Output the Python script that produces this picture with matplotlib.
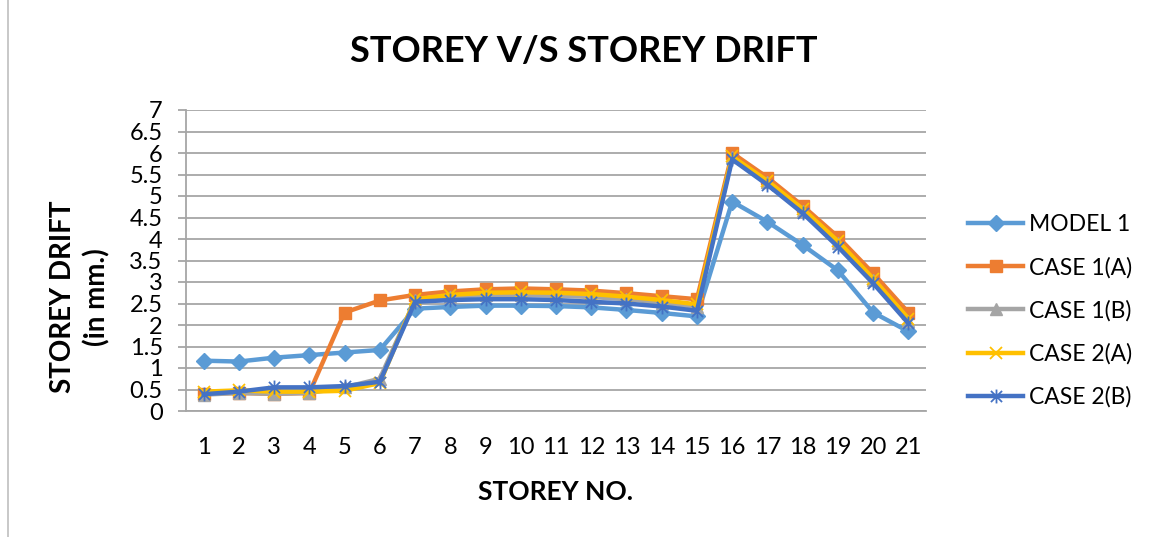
import numpy as np
import matplotlib
matplotlib.use("Agg")
import matplotlib.pyplot as plt
from matplotlib.path import Path

# storey numbers and drift values (mm)
storeys = list(range(1, 22))
model_1 = [1.17, 1.15, 1.24, 1.30, 1.36, 1.42, 2.38, 2.42, 2.45, 2.45, 2.44,
           2.41, 2.35, 2.28, 2.20, 4.87, 4.40, 3.86, 3.27, 2.29, 1.85]
case_1a = [0.40, 0.42, 0.40, 0.42, 2.29, 2.57, 2.70, 2.78, 2.83, 2.85, 2.83,
           2.80, 2.74, 2.67, 2.60, 6.00, 5.43, 4.77, 4.05, 3.20, 2.29]
case_1b = [0.38, 0.42, 0.40, 0.42, 0.55, 0.75, 2.58, 2.65, 2.70, 2.70, 2.68,
           2.65, 2.60, 2.52, 2.42, 5.90, 5.32, 4.66, 3.90, 3.05, 2.10]
case_2a = [0.45, 0.48, 0.45, 0.45, 0.47, 0.65, 2.60, 2.70, 2.75, 2.76, 2.75,
           2.72, 2.66, 2.58, 2.48, 5.92, 5.35, 4.70, 3.95, 3.08, 2.15]
case_2b = [0.39, 0.45, 0.55, 0.55, 0.58, 0.68, 2.54, 2.58, 2.60, 2.60, 2.58,
           2.54, 2.50, 2.43, 2.33, 5.85, 5.26, 4.60, 3.82, 2.97, 2.04]

labels = ["MODEL 1", "CASE 1(A)", "CASE 1(B)", "CASE 2(A)", "CASE 2(B)"]
colors = ["#5B9BD5", "#ED7D31", "#A5A5A5", "#FFC000", "#4472C4"]

# Excel style star marker: x with a vertical bar
star = Path([(0, -1), (0, 1), (-0.8, -0.8), (0.8, 0.8), (-0.8, 0.8), (0.8, -0.8)],
            [Path.MOVETO, Path.LINETO, Path.MOVETO, Path.LINETO, Path.MOVETO, Path.LINETO])

plt.rcParams['font.family'] = ['Lato', 'DejaVu Sans']

fig = plt.figure(figsize=(11.5, 5.37), dpi=100)
W, H = 1150, 537
ax = fig.add_axes([186 / W, 1 - 411 / H, (926 - 186) / W, (411 - 110) / H])

series = [model_1, case_1a, case_1b, case_2a, case_2b]
styles = [dict(marker='D', ms=8.5),
          dict(marker='s', ms=9),
          dict(marker='^', ms=9),
          dict(marker='x', ms=9, mew=1.3),
          dict(marker=star, ms=10, mew=1.3)]
for vals, lab, col, st in zip(series, labels, colors, styles):
    ax.plot(storeys, vals, color=col, lw=3.2, label=lab,
            mfc=col, mec=col, solid_joinstyle='round', **st)

ax.set_xlim(0.5, 21.5)
ax.set_ylim(0, 7)
ax.set_xticks(storeys)
ax.set_yticks(np.arange(0, 7.01, 0.5))
ax.set_yticklabels([f"{v:g}" for v in np.arange(0, 7.01, 0.5)])
ax.grid(axis='y', color='#A6A6A6', lw=1.3)
ax.set_axisbelow(True)
for s in ['top', 'right']:
    ax.spines[s].set_visible(False)
for s in ['left', 'bottom']:
    ax.spines[s].set_color('#A6A6A6')
    ax.spines[s].set_linewidth(1.3)
ax.tick_params(axis='x', length=0, labelsize=17, pad=19)
ax.tick_params(axis='y', length=5.8, color='#A6A6A6', width=1.3, labelsize=17, pad=11)

fig.text(584 / W, 1 - 52 / H, "STOREY V/S STOREY DRIFT", ha='center', va='center',
         fontsize=26, fontweight='bold')
fig.text(555 / W, 1 - 492 / H, "STOREY NO.", ha='center', va='center',
         fontsize=19, fontweight='bold')
fig.text(80 / W, 1 - 297 / H, "STOREY DRIFT\n(in mm.)", ha='center', va='center',
         rotation=90, fontsize=20, fontweight='bold', linespacing=1.35)

ax.legend(loc='center left', bbox_to_anchor=(957 / W, 1 - 311 / H),
          bbox_transform=fig.transFigure, frameon=False, fontsize=16.5,
          handlelength=2.4, handletextpad=0.25, labelspacing=0.95, borderpad=0)

# chart frame edge visible on the left
fig.add_artist(plt.Line2D([8 / W, 8 / W], [0, 1], color='#BFBFBF', lw=1.2))

fig.savefig("out.png", dpi=100)
